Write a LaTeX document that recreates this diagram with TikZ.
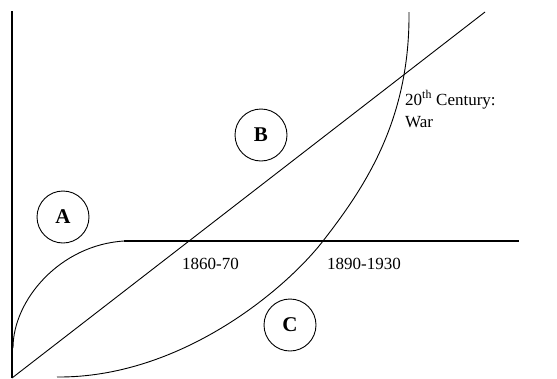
\documentclass[tikz,border=0pt]{standalone}
\usepackage{fontspec}
\setmainfont{Liberation Serif}
\usepackage{tikz}
\usetikzlibrary{positioning,calc}

\begin{document}
\begin{tikzpicture}[
  x=1pt, y=-1pt,
  every node/.style={font=\fontsize{17}{22}\selectfont},
  phase/.style={draw, line width=0.9pt, circle, minimum size=52pt, inner sep=0pt,
                font=\fontsize{21}{24}\selectfont\bfseries},
  datelbl/.style={anchor=base west, inner sep=0pt},
  axisln/.style={line width=1.6pt},
  curveln/.style={line width=0.9pt},
]
  \useasboundingbox (0,0) rectangle (557,378);

  % axis and the plateau line
  \coordinate (org)  at (12,378);
  \coordinate (top)  at (12,11);
  \coordinate (aend) at (124,241);
  \coordinate (hend) at (519,241);
  \draw[axisln] (org) -- (top);
  \draw[axisln, line width=1.3pt] (aend) -- (hend);

  % curve A, line B, curve C
  \coordinate (astart) at (13,348);
  \draw[curveln] (astart) .. controls (13,300) and (60,245) .. (aend);
  \coordinate (bend) at (485,12);
  \draw[curveln] (org) -- (bend);
  \coordinate (cstart) at (57,377);
  \coordinate (cmid)   at (323,241);
  \coordinate (cend)   at (409,12);
  \draw[curveln] (cstart) .. controls (180,378) and (285,290) .. (cmid)
                 .. controls (365,187) and (410,120) .. (cend);

  \node[phase] (circA) at (63,217) {A};
  \node[phase] (circB) at (261,135) {B};
  \node[phase] (circC) at (290,325) {C};

  \node[datelbl] (d1860) at (182,269) {1860-70};
  \node[datelbl] (d1890) at (327,269) {1890-1930};
  \node[datelbl] (war20) at (405,105) {20\textsuperscript{th} Century:};
  \node[datelbl] (war)   at (405,127) {War};
\end{tikzpicture}
\end{document}
